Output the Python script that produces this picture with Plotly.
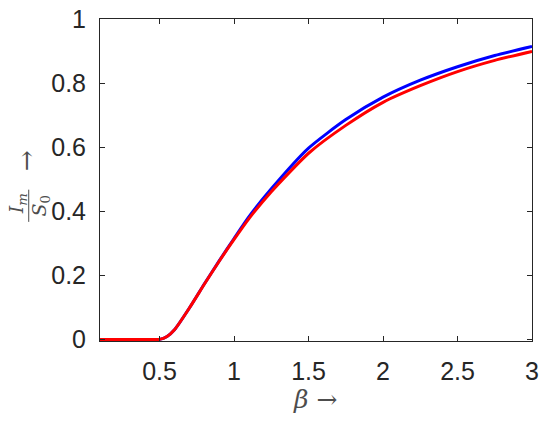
import plotly.graph_objects as go

# beta values and peak-infected ratio
beta = [0.1, 0.45, 0.5, 0.55, 0.6, 0.7, 0.8, 0.9, 1.0, 1.1, 1.25, 1.5, 1.75, 2.0, 2.25, 2.5, 2.75, 3.0]
im_blue = [0, 0, 0, 0.009, 0.03, 0.098, 0.173, 0.245, 0.315, 0.383, 0.47, 0.597, 0.686, 0.756, 0.809, 0.851, 0.886, 0.914]
im_red = [0, 0, 0, 0.009, 0.03, 0.098, 0.172, 0.244, 0.312, 0.377, 0.461, 0.581, 0.668, 0.740, 0.792, 0.836, 0.871, 0.899]

x_ticks = [0.5, 1, 1.5, 2, 2.5, 3]
y_ticks = [0, 0.2, 0.4, 0.6, 0.8, 1]

fig = go.Figure()

fig.add_trace(
    go.Scatter(
        x=beta,
        y=im_blue,
        mode="lines",
        line=dict(color="#0000ff", width=3, shape="spline", smoothing=0.6),
    )
)

fig.add_trace(
    go.Scatter(
        x=beta,
        y=im_red,
        mode="lines",
        line=dict(color="#ff0000", width=3, shape="spline", smoothing=0.6),
    )
)

axis_style = dict(
    automargin=False,
    showgrid=False,
    zeroline=False,
    showline=True,
    linecolor="#262626",
    linewidth=1,
    mirror="allticks",
    ticks="inside",
    ticklen=5,
    tickcolor="#262626",
    ticklabeloverflow="allow",
    tickfont=dict(family="Liberation Sans, Arial", size=25, color="#262626"),
)

fig.update_xaxes(
    range=[0.1, 3],
    tickvals=x_ticks,
    ticktext=[f"{v:g}" for v in x_ticks],
    ticklabelstandoff=8,
    **axis_style,
)
fig.update_yaxes(
    range=[-0.005, 1],
    tickvals=y_ticks,
    ticktext=[f"{v:g}" for v in y_ticks],
    ticklabelstandoff=8,
    **axis_style,
)

serif = "DejaVu Serif, Liberation Serif"
label_color = "#4d4d4d"

fig.add_annotation(
    text="<i>β</i> →",
    xref="paper", yref="paper",
    x=0.498, y=-0.183,
    xanchor="center", yanchor="middle",
    showarrow=False,
    font=dict(family=serif, size=25, color=label_color),
)

# y label: I_m over S_0 with an arrow, rotated
fig.add_annotation(
    text="<i>I<sub>m</sub></i>",
    xref="paper", yref="paper",
    x=-0.192, y=0.425,
    xanchor="center", yanchor="middle",
    textangle=-90,
    showarrow=False,
    font=dict(family=serif, size=19, color=label_color),
)
fig.add_annotation(
    text="<i>S</i><sub>0</sub>",
    xref="paper", yref="paper",
    x=-0.137, y=0.42,
    xanchor="center", yanchor="middle",
    textangle=-90,
    showarrow=False,
    font=dict(family=serif, size=19, color=label_color),
)
fig.add_shape(
    type="line",
    xref="paper", yref="paper",
    x0=-0.165, x1=-0.165, y0=0.37, y1=0.47,
    line=dict(color=label_color, width=1),
)
fig.add_annotation(
    text="→",
    xref="paper", yref="paper",
    x=-0.17, y=0.56,
    xanchor="center", yanchor="middle",
    textangle=-90,
    showarrow=False,
    font=dict(family=serif, size=25, color=label_color),
)

fig.update_layout(
    width=550,
    height=426,
    margin=dict(l=100, r=18, t=19, b=85),
    plot_bgcolor="white",
    paper_bgcolor="white",
    showlegend=False,
)

fig.write_html(
    "out.html",
    config={"displayModeBar": False},
    post_script="document.body.style.margin = '0';",
)
